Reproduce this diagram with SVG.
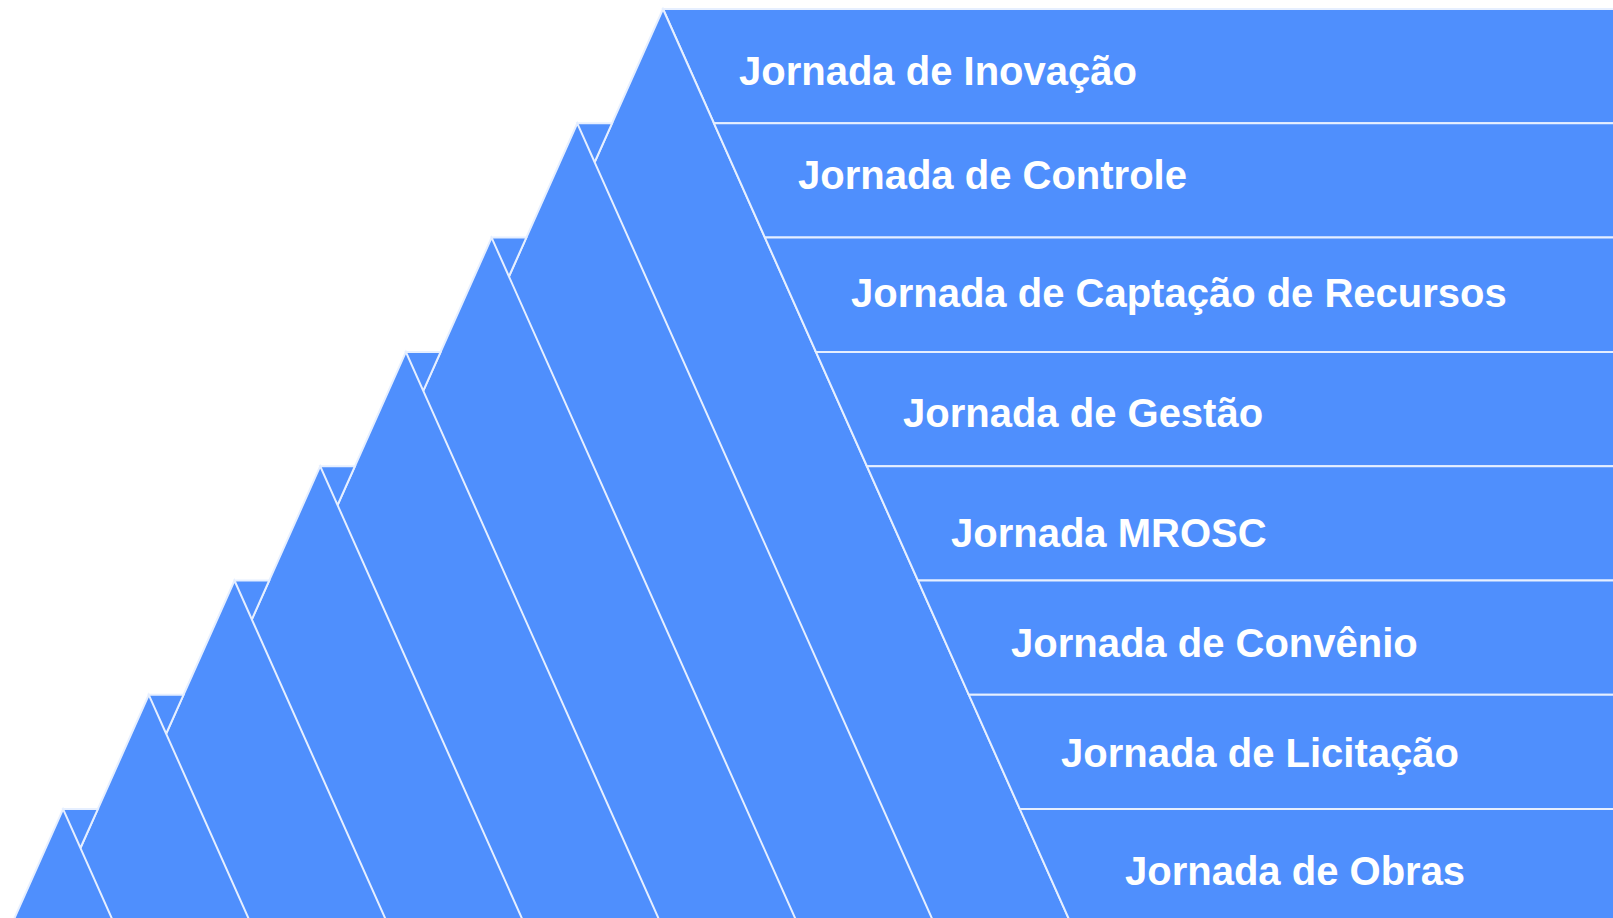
<svg xmlns="http://www.w3.org/2000/svg" width="1613" height="918" viewBox="0 0 1613 918">
<style>
.f{fill:#4f8ffd;stroke:#e6efff;stroke-width:2;stroke-linejoin:miter}
.t{font-family:"Liberation Sans",Arial,sans-serif;font-weight:bold;font-size:40px;fill:#ffffff}
</style>
<rect width="1613" height="918" fill="#ffffff"/>
<g id="n0">
<polygon class="f" points="663,9 1620,9 1620,123.3 713.98,123.3"/>
<polygon class="f" points="663,9 1073.8,930 252.2,930"/>
<text class="t" x="739" y="85">Jornada de Inovação</text>
</g>
<g id="n1">
<polygon class="f" points="713.98,123.3 1620,123.3 1620,237.6 764.96,237.6"/>
<path class="f" d="M577.3,123.3 L612.02,123.3 L594.66,162.22 Z M577.3,123.3 L937.1,930 L217.5,930 Z"/>
<text class="t" x="798" y="189">Jornada de Controle</text>
</g>
<g id="n2">
<polygon class="f" points="764.96,237.6 1620,237.6 1620,351.9 815.93,351.9"/>
<path class="f" d="M491.6,237.6 L526.32,237.6 L508.96,276.52 Z M491.6,237.6 L800.4,930 L182.8,930 Z"/>
<text class="t" x="851" y="306.7">Jornada de Captação de Recursos</text>
</g>
<g id="n3">
<polygon class="f" points="815.93,351.9 1620,351.9 1620,466.2 866.91,466.2"/>
<path class="f" d="M405.9,351.9 L440.62,351.9 L423.26,390.82 Z M405.9,351.9 L663.7,930 L148.1,930 Z"/>
<text class="t" x="903" y="426.7">Jornada de Gestão</text>
</g>
<g id="n4">
<polygon class="f" points="866.91,466.2 1620,466.2 1620,580.5 917.89,580.5"/>
<path class="f" d="M320.2,466.2 L354.92,466.2 L337.56,505.12 Z M320.2,466.2 L527.1,930 L113.3,930 Z"/>
<text class="t" x="951" y="546.7">Jornada MROSC</text>
</g>
<g id="n5">
<polygon class="f" points="917.89,580.5 1620,580.5 1620,694.8 968.87,694.8"/>
<path class="f" d="M234.5,580.5 L269.22,580.5 L251.86,619.42 Z M234.5,580.5 L390.4,930 L78.6,930 Z"/>
<text class="t" x="1011" y="656.7">Jornada de Convênio</text>
</g>
<g id="n6">
<polygon class="f" points="968.87,694.8 1620,694.8 1620,809.1 1019.85,809.1"/>
<path class="f" d="M148.8,694.8 L183.52,694.8 L166.16,733.72 Z M148.8,694.8 L253.7,930 L43.9,930 Z"/>
<text class="t" x="1061" y="766.7">Jornada de Licitação</text>
</g>
<g id="n7">
<polygon class="f" points="1019.85,809.1 1620,809.1 1620,930 1073.77,930"/>
<path class="f" d="M63.1,809.1 L97.82,809.1 L80.46,848.02 Z M63.1,809.1 L117,930 L9.2,930 Z"/>
<text class="t" x="1125" y="885">Jornada de Obras</text>
</g>
<g id="connectors"></g>
</svg>
